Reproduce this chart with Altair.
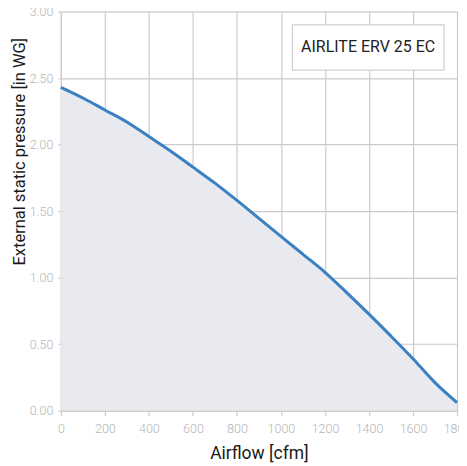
import altair as alt
import pandas as pd

airflow = [0, 100, 200, 300, 400, 500, 600, 700, 800, 900, 1000, 1100, 1200, 1300, 1400, 1500, 1600, 1700, 1800]
pressure = [2.43, 2.35, 2.26, 2.17, 2.06, 1.95, 1.83, 1.71, 1.58, 1.445, 1.31, 1.175, 1.04, 0.885, 0.725, 0.56, 0.39, 0.21, 0.06]
model_label = ["AIRLITE ERV 25 EC"]
x_ticks = list(range(0, 1801, 100))
y_ticks = [0, 0.5, 1.0, 1.5, 2.0, 2.5, 3.0]

df = pd.DataFrame({"airflow": airflow, "pressure": pressure})
box = pd.DataFrame({"x1": [1052], "x2": [1741], "y1": [2.56], "y2": [2.90], "label": model_label,
                    "xm": [1396], "ym": [2.73]})

GRID = "#cbcbcb"
LABEL = "#b5b5b5"

xs = alt.Scale(domain=[0, 1800], nice=False)
ys = alt.Scale(domain=[0, 3], nice=False)

x_axis = alt.Axis(
    values=x_ticks, format="d",
    labelExpr="datum.value % 200 === 0 ? datum.label : ''",
    tickOpacity={"expr": "datum.value % 200 === 0 ? 1 : 0"},
    grid=True, gridColor=GRID, gridWidth=1.2,
    domain=True, domainColor=GRID, domainWidth=1.2,
    tickColor=GRID, tickSize=5, tickWidth=1.2,
    labelColor=LABEL, labelFont="Roboto", labelFontWeight=300, labelFontSize=12.5,
    labelPadding=7, labelFlush=False, labelOverlap=False,
    title="Airflow [cfm]", titleFont="Roboto", titleFontSize=17.5, titleFontWeight="normal",
    titleColor="#1a1a1a", titlePadding=9,
)
y_axis = alt.Axis(
    values=y_ticks, format=".2f",
    grid=True, gridColor=GRID, gridWidth=1.2,
    domain=True, domainColor=GRID, domainWidth=1.2,
    tickColor=GRID, tickSize=3, tickWidth=1.2,
    labelColor=LABEL, labelFont="Roboto", labelFontWeight=300, labelFontSize=12.5,
    labelPadding=5, labelFlush=False,
    title="External static pressure [in WG]", titleFont="Roboto", titleFontSize=16.5,
    titleFontWeight="normal", titleColor="#1a1a1a",
    titleAngle=270, titleAlign="center", titleBaseline="alphabetic",
    titleX=-36, titleY=140,
)

area = alt.Chart(df).mark_area(color="#e9eaef", interpolate="monotone").encode(
    x=alt.X("airflow:Q", scale=xs, axis=x_axis),
    y=alt.Y("pressure:Q", scale=ys, axis=y_axis),
)
line = alt.Chart(df).mark_line(color="#3b80c3", strokeWidth=3, interpolate="monotone").encode(
    x=alt.X("airflow:Q", scale=xs),
    y=alt.Y("pressure:Q", scale=ys),
)
rect = alt.Chart(box).mark_rect(fill="white", stroke="#cfcfcf", strokeWidth=1.2).encode(
    x=alt.X("x1:Q", scale=xs), x2="x2:Q",
    y=alt.Y("y1:Q", scale=ys), y2="y2:Q",
)
text = alt.Chart(box).mark_text(font="Roboto", fontSize=16, color="#222222",
                                align="center", baseline="middle").encode(
    x=alt.X("xm:Q", scale=xs), y=alt.Y("ym:Q", scale=ys), text="label:N",
)

chart = alt.layer(area, line, rect, text).properties(
    width=397, height=400,
    autosize=alt.AutoSizeParams(type="none"),
    padding={"left": 53, "top": 3, "right": 2, "bottom": 55},
).configure_view(stroke=None).configure(background="white")

chart.save("out.html", embed_options={"renderer": "svg", "actions": False})
